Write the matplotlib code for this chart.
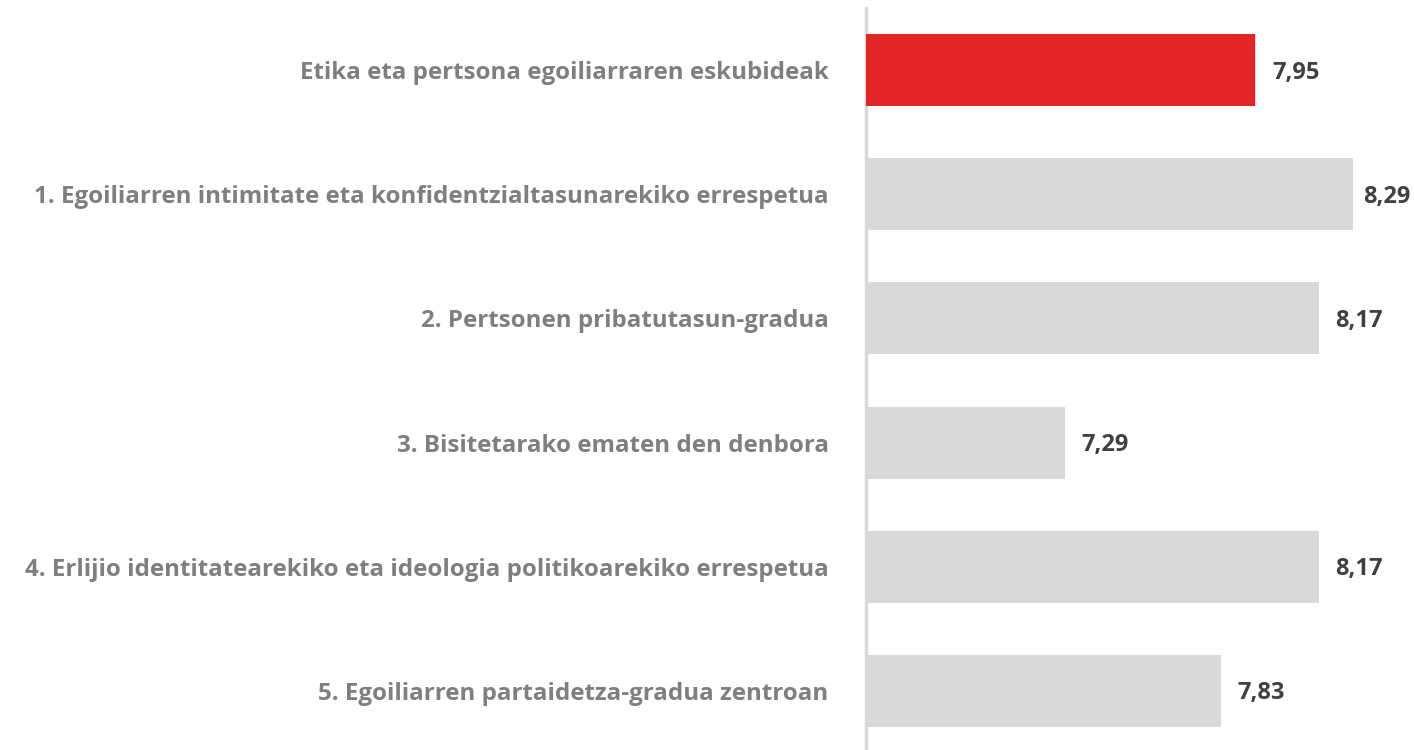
import matplotlib.pyplot as plt

labels = [
    "Etika eta pertsona egoiliarraren eskubideak",
    "1. Egoiliarren intimitate eta konfidentzialtasunarekiko errespetua",
    "2. Pertsonen pribatutasun-gradua",
    "3. Bisitetarako ematen den denbora",
    "4. Erlijio identitatearekiko eta ideologia politikoarekiko errespetua",
    "5. Egoiliarren partaidetza-gradua zentroan",
]
values = [7.95, 8.29, 8.17, 7.29, 8.17, 7.83]
colors = ["#e32528", "#d9d9d9", "#d9d9d9", "#d9d9d9", "#d9d9d9", "#d9d9d9"]

plt.rcParams['font.family'] = ['Open Sans', 'DejaVu Sans']

fig = plt.figure(figsize=(14.14, 7.5), dpi=100)
ax = fig.add_axes([866 / 1414, -0.004, 548 / 1414, 0.9933])

xmin, xmax = 6.6, 8.5
y = list(range(len(labels)))
ax.barh(y, [v - xmin for v in values], left=xmin, height=0.58, color=colors)
ax.set_xlim(xmin, xmax)
ax.set_ylim(len(labels) - 0.5, -0.5)

for yi, v in zip(y, values):
    txt = f"{v:.2f}".replace(".", ",")
    if v + 0.24 > xmax:
        # label pushed inside the plot area, like the original
        ax.text(xmax - 0.012, yi + 0.02, txt, va="center", ha="right",
                fontsize=17, fontweight="bold", color="#404040")
    else:
        ax.text(v + 0.058, yi + 0.02, txt, va="center", ha="left",
                fontsize=17, fontweight="bold", color="#404040")

ax.set_yticks(y)
ax.set_yticklabels(labels, fontsize=17.4, fontweight="bold", color="#7f7f7f")
ax.tick_params(axis="y", length=0, pad=27)
ax.set_xticks([])
for s in ["top", "right", "bottom"]:
    ax.spines[s].set_visible(False)
ax.spines["left"].set_color("#d9d9d9")
ax.spines["left"].set_linewidth(2.5)
ax.spines["left"].set_zorder(0)

fig.savefig("out.png", dpi=100)
